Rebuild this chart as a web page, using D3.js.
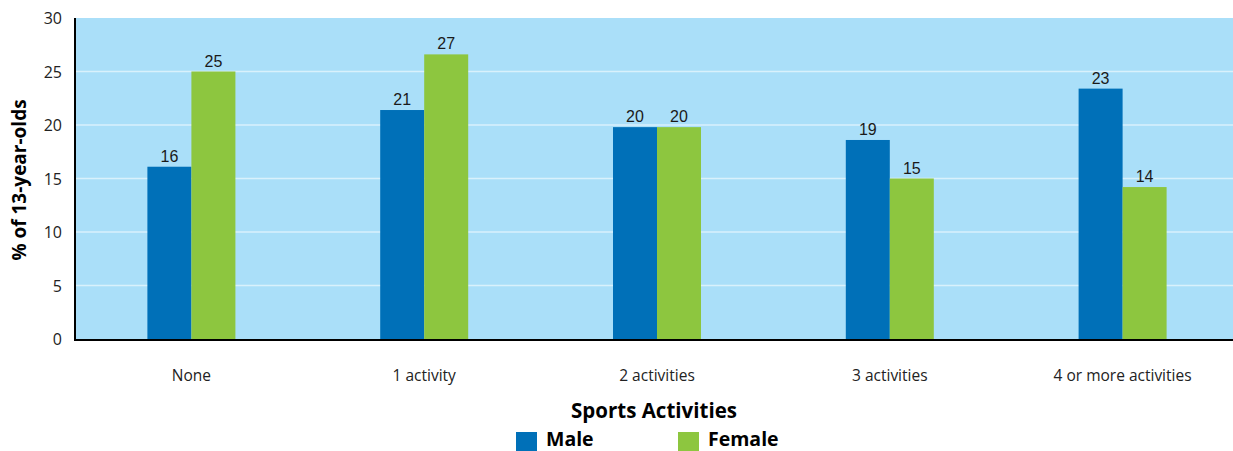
<!DOCTYPE html>
<head>
  <meta charset="utf-8">
  <script src="https://d3js.org/d3.v7.min.js"></script>
  <style>
    body { margin: 0; background: #fff; }
    text { font-family: "Open Sans", sans-serif; }
  </style>
</head>
<body>
  <script>
    var categories = ["None", "1 activity", "2 activities", "3 activities", "4 or more activities"];
    var series = ["Male", "Female"];
    var maleValues = [16.1, 21.4, 19.8, 18.6, 23.4];
    var femaleValues = [25.0, 26.6, 19.8, 15.0, 14.2];
    var maleLabels = ["16", "21", "20", "19", "23"];
    var femaleLabels = ["25", "27", "20", "15", "14"];
    var yTicks = [0, 5, 10, 15, 20, 25, 30];
    var colors = { Male: "#0070b8", Female: "#8dc63f" };

    var svg = d3.select("body").append("svg")
      .attr("width", 1233)
      .attr("height", 451);

    // plot box (not "top": window.top is read-only)
    var plotLeft = 75, plotRight = 1233, plotTop = 18, plotBottom = 339;

    // bands run a little past the right edge, like the original
    var x = d3.scaleBand().domain(categories).range([plotLeft, 1239]);
    var xs = d3.scaleBand().domain(series).range([0, 88]);
    var y = d3.scaleLinear().domain([0, 30]).range([plotBottom, plotTop]);

    // plot background
    svg.append("rect")
      .attr("x", plotLeft).attr("y", plotTop)
      .attr("width", plotRight - plotLeft).attr("height", plotBottom - plotTop)
      .attr("fill", "#aadff9");

    // gridlines
    svg.selectAll(".grid").data(yTicks.filter(function(d) { return d > 0 && d < 30; }))
      .enter().append("line")
      .attr("x1", plotLeft).attr("x2", plotRight)
      .attr("y1", function(d) { return y(d); })
      .attr("y2", function(d) { return y(d); })
      .attr("stroke", "#d9f1fc")
      .attr("stroke-width", 1.5);

    var rows = categories.map(function(c, i) {
      return [
        { cat: c, s: "Male", v: maleValues[i], label: maleLabels[i] },
        { cat: c, s: "Female", v: femaleValues[i], label: femaleLabels[i] }
      ];
    });
    var flat = [].concat.apply([], rows);

    function barX(d) { return x(d.cat) + x.bandwidth() / 2 - 44 + xs(d.s); }

    svg.selectAll(".bar").data(flat).enter().append("rect")
      .attr("x", barX)
      .attr("y", function(d) { return y(d.v); })
      .attr("width", xs.bandwidth())
      .attr("height", function(d) { return y(0) - y(d.v); })
      .attr("fill", function(d) { return colors[d.s]; });

    svg.selectAll(".val").data(flat).enter().append("text")
      .attr("x", function(d) { return barX(d) + xs.bandwidth() / 2; })
      .attr("y", function(d) { return y(d.v) - 5; })
      .attr("text-anchor", "middle")
      .style("font-family", "'Liberation Sans', Arial, sans-serif")
      .style("font-size", "16px")
      .attr("fill", "#1a1a1a")
      .text(function(d) { return d.label; });

    // axes lines
    svg.append("line")
      .attr("x1", plotLeft).attr("x2", plotLeft)
      .attr("y1", plotTop).attr("y2", plotBottom + 1)
      .attr("stroke", "#000").attr("stroke-width", 2);
    svg.append("line")
      .attr("x1", plotLeft - 1).attr("x2", plotRight)
      .attr("y1", plotBottom + 1).attr("y2", plotBottom + 1)
      .attr("stroke", "#000").attr("stroke-width", 2);

    // y tick labels
    svg.selectAll(".ytick").data(yTicks).enter().append("text")
      .attr("x", 62)
      .attr("y", function(d) { return y(d) + 6; })
      .attr("text-anchor", "end")
      .style("font-size", "16px")
      .attr("fill", "#222")
      .text(function(d) { return d; });

    // x tick labels
    svg.selectAll(".xtick").data(categories).enter().append("text")
      .attr("x", function(d) { return x(d) + x.bandwidth() / 2; })
      .attr("y", 381)
      .attr("text-anchor", "middle")
      .style("font-size", "15.5px")
      .attr("fill", "#222")
      .text(function(d) { return d; });

    // axis titles
    svg.append("text")
      .attr("transform", "translate(26,180) rotate(-90)")
      .attr("text-anchor", "middle")
      .style("font-size", "19px")
      .style("font-weight", "bold")
      .text("% of 13-year-olds");

    svg.append("text")
      .attr("x", 654).attr("y", 418)
      .attr("text-anchor", "middle")
      .style("font-size", "20.5px")
      .style("font-weight", "bold")
      .text("Sports Activities");

    // legend
    var legendX = { Male: 516, Female: 678 };
    var lg = svg.selectAll(".legend").data(series).enter().append("g")
      .attr("transform", function(d) { return "translate(" + legendX[d] + ",432)"; });
    lg.append("rect")
      .attr("width", 21).attr("height", 19)
      .attr("fill", function(d) { return colors[d]; });
    lg.append("text")
      .attr("x", 30).attr("y", 14)
      .style("font-size", "19.5px")
      .style("font-weight", "bold")
      .text(function(d) { return d; });
  </script>
</body>
